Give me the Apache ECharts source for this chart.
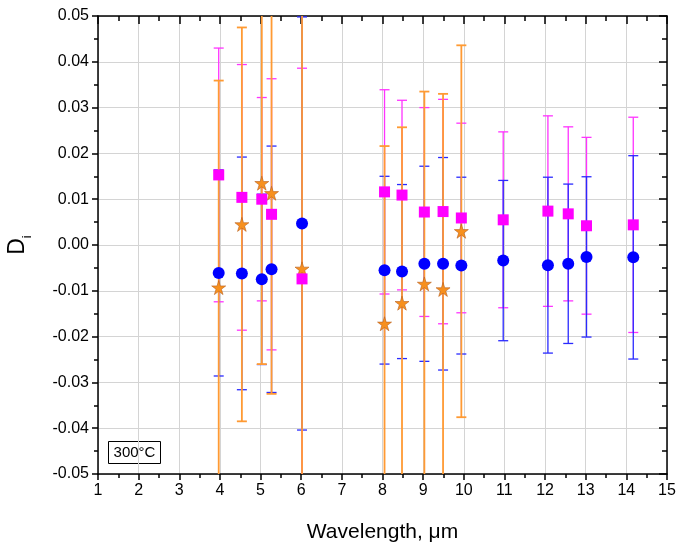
<!DOCTYPE html>
<html><head><meta charset="utf-8">
<script src="https://cdn.jsdelivr.net/npm/echarts@6/dist/echarts.min.js"></script>
<style>html,body{margin:0;padding:0;background:#fff}#c{width:679px;height:548px}</style>
</head><body><div id="c"></div>
<script>
// Data
const wavelength = [3.97, 4.54, 5.03, 5.27, 6.02, 8.05, 8.48, 9.03, 9.49, 9.94, 10.97, 12.07, 12.57, 13.02, 14.17];
const blueVal = [-0.0061, -0.0062, -0.0075, -0.0053, 0.0047, -0.0055, -0.0058, -0.0041, -0.0041, -0.0045, -0.0034, -0.0044, -0.0041, -0.0026, -0.0027];
const blueErr = [0.0225, 0.0254, 0.0186, 0.0269, 0.0451, 0.0205, 0.0190, 0.0213, 0.0232, 0.0193, 0.0175, 0.0192, 0.0174, 0.0175, 0.0222];
const magentaVal = [0.0153, 0.0104, 0.0100, 0.0067, -0.0074, 0.0116, 0.0109, 0.0072, 0.0073, 0.0059, 0.0055, 0.0074, 0.0068, 0.0042, 0.0044];
const magentaErr = [0.0277, 0.0290, 0.0222, 0.0296, 0.0460, 0.0223, 0.0207, 0.0228, 0.0245, 0.0207, 0.0192, 0.0208, 0.0190, 0.0193, 0.0235];
const orangeX = [3.97, 4.54, 5.03, 5.27, 6.02, 8.05, 8.48, 9.03, 9.49, 9.94];
const orangeVal = [-0.0093, 0.0045, 0.0135, 0.0113, -0.0052, -0.0172, -0.0127, -0.0085, -0.0097, 0.0030];
const orangeErr = [0.0452, 0.0430, 0.0395, 0.0438, 0.0700, 0.0388, 0.0384, 0.0420, 0.0427, 0.0406];
const xTicks = [1, 15, 1];        // min, max, interval
const yTicks = [-0.05, 0.05, 0.01];
const tempLabel = '300°C';

const FONT = "'Liberation Sans', Arial, sans-serif";
const Y_MIN = yTicks[0], Y_MAX = yTicks[1];

function errRender(color, lw, capW) {
  return function (params, api) {
    const x = api.value(0), y = api.value(1), e = api.value(2);
    const hi = y + e, lo = y - e;
    const pTop = api.coord([x, Math.min(hi, Y_MAX)]);
    const pBot = api.coord([x, Math.max(lo, Y_MIN)]);
    const st = { stroke: color, lineWidth: lw };
    const ch = [{ type: 'line', shape: { x1: pTop[0], y1: pTop[1], x2: pBot[0], y2: pBot[1] }, style: st }];
    if (hi <= Y_MAX) ch.push({ type: 'line', shape: { x1: pTop[0] - capW / 2, y1: pTop[1], x2: pTop[0] + capW / 2, y2: pTop[1] }, style: st });
    if (lo >= Y_MIN) ch.push({ type: 'line', shape: { x1: pBot[0] - capW / 2, y1: pBot[1], x2: pBot[0] + capW / 2, y2: pBot[1] }, style: st });
    return { type: 'group', children: ch };
  };
}

const blueData = wavelength.map((x, i) => [x, blueVal[i], blueErr[i]]);
const magData = wavelength.map((x, i) => [x, magentaVal[i], magentaErr[i]]);
const orData = orangeX.map((x, i) => [x, orangeVal[i], orangeErr[i]]);

const STAR = 'path://M50,2 L61.2,36.3 L97.6,36.3 L68.2,57.6 L79.4,92 L50,70.7 L20.6,92 L31.8,57.6 L2.4,36.3 L38.8,36.3 Z';

const baseAxisLine = { show: true, onZero: false, lineStyle: { color: '#000', width: 1.5 } };

const chart = echarts.init(document.getElementById('c'), null, { renderer: 'canvas' });
chart.setOption({
  animation: false,
  backgroundColor: '#fff',
  grid: { left: 98, right: 12, top: 16, bottom: 74, containLabel: false },
  xAxis: [
    {
      type: 'value', min: xTicks[0], max: xTicks[1], interval: xTicks[2], position: 'bottom',
      name: 'Wavelength, μm', nameLocation: 'middle', nameGap: 48,
      nameTextStyle: { fontFamily: FONT, fontSize: 21, color: '#000' },
      axisLine: baseAxisLine,
      axisTick: { show: true, inside: false, length: 6, lineStyle: { color: '#000', width: 1.5 } },
      minorTick: { show: true, splitNumber: 2, length: 4, lineStyle: { color: '#000', width: 1.5 } },
      axisLabel: { fontFamily: FONT, fontSize: 16, color: '#000', margin: 9 },
      splitLine: { show: true, lineStyle: { color: '#d4d4d4', width: 1 } }
    },
    {
      type: 'value', min: xTicks[0], max: xTicks[1], interval: xTicks[2], position: 'top',
      axisLine: baseAxisLine,
      axisTick: { show: true, inside: true, length: 8, lineStyle: { color: '#000', width: 1.5 } },
      minorTick: { show: true, splitNumber: 2, length: 5, lineStyle: { color: '#000', width: 1.5 } },
      axisLabel: { show: false }, splitLine: { show: false }
    }
  ],
  yAxis: [
    {
      type: 'value', min: yTicks[0], max: yTicks[1], interval: yTicks[2], position: 'left',
      axisLine: baseAxisLine,
      axisTick: { show: true, inside: false, length: 6, lineStyle: { color: '#000', width: 1.5 } },
      minorTick: { show: true, splitNumber: 2, length: 4, lineStyle: { color: '#000', width: 1.5 } },
      axisLabel: {
        fontFamily: FONT, fontSize: 16, color: '#000', margin: 9,
        formatter: v => (Math.abs(v) < 1e-9 ? 0 : v).toFixed(2)
      },
      splitLine: { show: true, lineStyle: { color: '#d4d4d4', width: 1 } }
    },
    {
      type: 'value', min: yTicks[0], max: yTicks[1], interval: yTicks[2], position: 'right',
      axisLine: baseAxisLine,
      axisTick: { show: true, inside: true, length: 8, lineStyle: { color: '#000', width: 1.5 } },
      minorTick: { show: true, splitNumber: 2, length: 5, lineStyle: { color: '#000', width: 1.5 } },
      axisLabel: { show: false }, splitLine: { show: false }
    }
  ],
  graphic: [
    {
      type: 'text', x: 20, y: 245, rotation: Math.PI / 2, z: 100,
      style: {
        text: '{d|D}{i|i}', align: 'center', verticalAlign: 'middle',
        rich: {
          d: { fontFamily: FONT, fontSize: 23, fill: '#000', padding: [0, 0, 4, 0] },
          i: { fontFamily: FONT, fontSize: 13, fill: '#000', verticalAlign: 'bottom' }
        }
      }
    },
    {
      type: 'group', z: 100, children: [
        { type: 'rect', shape: { x: 108.5, y: 441.5, width: 52, height: 22 }, style: { fill: '#fff', stroke: '#000', lineWidth: 1 } },
        { type: 'text', x: 134.5, y: 453, style: { text: tempLabel, fontFamily: FONT, fontSize: 15, fill: '#000', align: 'center', verticalAlign: 'middle' } }
      ]
    }
  ],
  series: [
    { type: 'custom', name: 'magErr', data: magData, encode: { x: 0, y: 1 }, renderItem: errRender('#ff33ff', 1.3, 10), z: 2 },
    { type: 'custom', name: 'blueErr', data: blueData, encode: { x: 0, y: 1 }, renderItem: errRender('#2a2aff', 1.3, 10), z: 2 },
    { type: 'custom', name: 'orErr', data: orData, encode: { x: 0, y: 1 }, renderItem: errRender('#ff9a33', 1.8, 10), z: 2 },
    { type: 'scatter', name: 'orange', data: orData.map(d => [d[0], d[1]]), symbol: STAR, symbolSize: 14,
      itemStyle: { color: '#f7901e', borderColor: '#b8601f', borderWidth: 0.6, opacity: 1 }, z: 3 },
    { type: 'scatter', name: 'magenta', data: magData.map(d => [d[0], d[1]]), symbol: 'rect', symbolSize: 11,
      itemStyle: { color: '#ff00ff', opacity: 1 }, z: 3 },
    { type: 'scatter', name: 'blue', data: blueData.map(d => [d[0], d[1]]), symbol: 'circle', symbolSize: 12,
      itemStyle: { color: '#0000ff', opacity: 1 }, z: 5 }
  ]
});
</script>
</body></html>
